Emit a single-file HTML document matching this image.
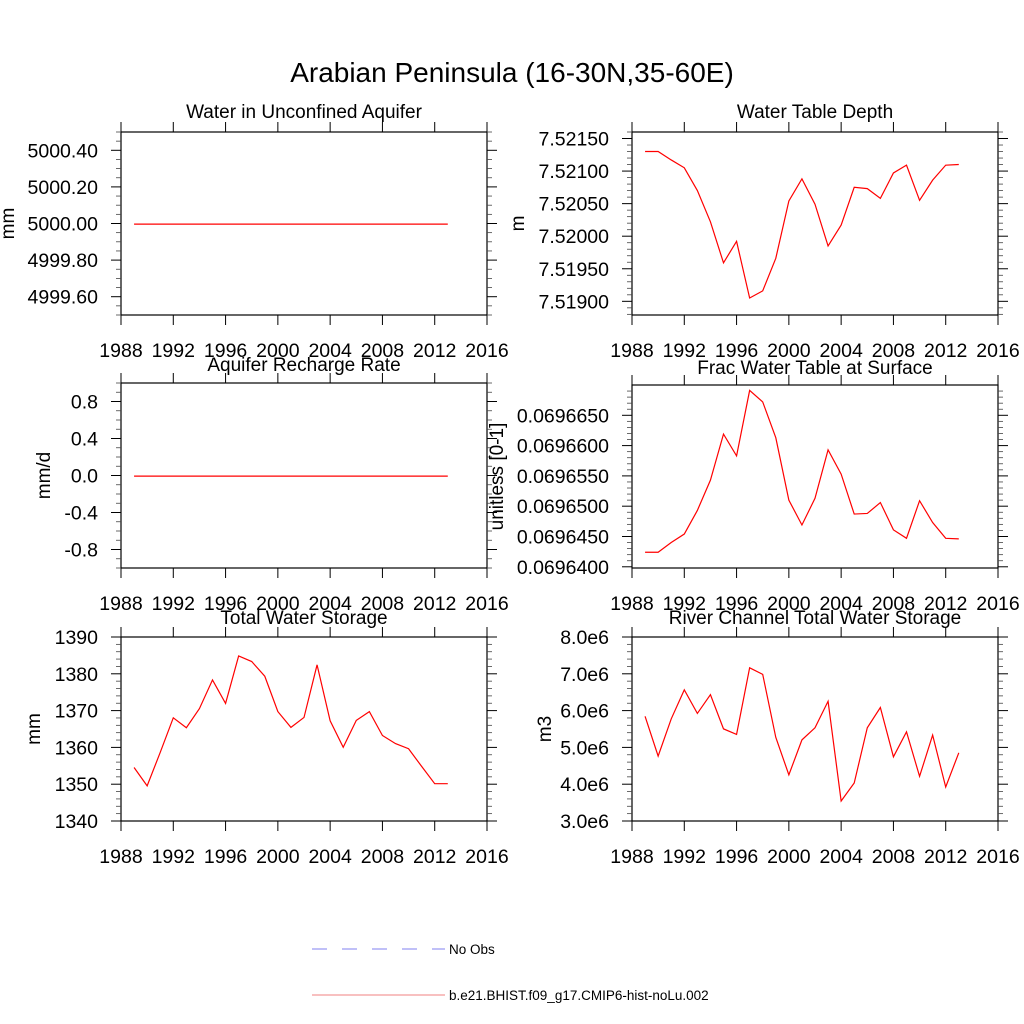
<!DOCTYPE html>
<html><head><meta charset="utf-8"><style>
html,body{margin:0;padding:0;background:#fff;}
svg{display:block;font-family:"Liberation Sans",Arial,sans-serif;}
</style></head><body>
<svg id="chart" width="1024" height="1024" viewBox="0 0 1024 1024" xmlns="http://www.w3.org/2000/svg">
<text x="512" y="82" font-size="28" text-anchor="middle">Arabian Peninsula (16-30N,35-60E)</text>
<g>
<line x1="312" y1="949" x2="445" y2="949" stroke="#8080f0" stroke-width="1" stroke-dasharray="15,15"/>
<text x="449" y="954" font-size="13.5">No Obs</text>
<line x1="312" y1="995" x2="445" y2="995" stroke="#f08080" stroke-width="1"/>
<text x="449" y="1000" font-size="13.5">b.e21.BHIST.f09_g17.CMIP6-hist-noLu.002</text>
</g>
</svg>
<script>
const years=[1989,1990,1991,1992,1993,1994,1995,1996,1997,1998,1999,2000,2001,2002,2003,2004,2005,2006,2007,2008,2009,2010,2011,2012,2013];
const xTicks=[1988,1992,1996,2000,2004,2008,2012,2016];
const aquiferVals=[5000,5000,5000,5000,5000,5000,5000,5000,5000,5000,5000,5000,5000,5000,5000,5000,5000,5000,5000,5000,5000,5000,5000,5000,5000];
const rechargeVals=[0,0,0,0,0,0,0,0,0,0,0,0,0,0,0,0,0,0,0,0,0,0,0,0,0];
const wtdVals=[7.52131,7.52131,7.52118,7.52106,7.52071,7.52023,7.51960,7.51993,7.51906,7.51917,7.51967,7.52055,7.52089,7.52050,7.51986,7.52018,7.52076,7.52074,7.52059,7.52098,7.52110,7.52056,7.52087,7.52110,7.52111];
const fracVals=[0.0696425,0.0696425,0.0696441,0.0696455,0.0696494,0.0696544,0.0696620,0.0696584,0.0696692,0.0696673,0.0696614,0.0696511,0.0696470,0.0696514,0.0696594,0.0696554,0.0696488,0.0696489,0.0696507,0.0696462,0.0696448,0.0696510,0.0696474,0.0696448,0.0696447];
const twsVals=[1354.7,1349.7,1358.8,1368.2,1365.5,1370.7,1378.5,1372.1,1385.0,1383.5,1379.5,1369.9,1365.6,1368.3,1382.6,1367.4,1360.2,1367.5,1369.9,1363.4,1361.2,1359.8,1355.0,1350.3,1350.3];
const riverVals=[5.86,4.78,5.79,6.58,5.94,6.45,5.52,5.37,7.18,7.00,5.29,4.27,5.22,5.55,6.27,3.56,4.05,5.55,6.10,4.76,5.44,4.23,5.35,3.94,4.87];
const aquiferTicks=["5000.40","5000.20","5000.00","4999.80","4999.60"];
const rechargeTicks=["0.8","0.4","0.0","-0.4","-0.8"];
const wtdTicks=["7.52150","7.52100","7.52050","7.52000","7.51950","7.51900"];
const fracTicks=["0.0696650","0.0696600","0.0696550","0.0696500","0.0696450","0.0696400"];
const twsTicks=["1390","1380","1370","1360","1350","1340"];
const riverTicks=["8.0e6","7.0e6","6.0e6","5.0e6","4.0e6","3.0e6"];

const panels=[
 {name:'water-unconfined-aquifer',title:'Water in Unconfined Aquifer',yt:'mm',ytx:14,x0:121,x1:487,y0:132,y1:315,ymin:4999.5,ymax:5000.5,top:5000.4,major:0.2,minor:0.05,ticks:aquiferTicks,vals:aquiferVals,titleY:118},
 {name:'water-table-depth',title:'Water Table Depth',yt:'m',ytx:524,x0:632,x1:998,y0:132,y1:315,ymin:7.51879,ymax:7.52160,top:7.5215,major:0.0005,minor:0.0001,ticks:wtdTicks,vals:wtdVals,titleY:118},
 {name:'aquifer-recharge-rate',title:'Aquifer Recharge Rate',yt:'mm/d',ytx:50,x0:121,x1:487,y0:383,y1:568,ymin:-1,ymax:1,top:0.8,major:0.4,minor:0.1,ticks:rechargeTicks,vals:rechargeVals,titleY:371},
 {name:'frac-water-table-surface',title:'Frac Water Table at Surface',yt:'unitless [0-1]',ytx:503,x0:632,x1:998,y0:385,y1:568,ymin:0.0696398,ymax:0.0696700,top:0.069665,major:0.000005,minor:0.000001,ticks:fracTicks,vals:fracVals,titleY:374},
 {name:'total-water-storage',title:'Total Water Storage',yt:'mm',ytx:40,x0:121,x1:487,y0:637,y1:821,ymin:1340,ymax:1390,top:1390,major:10,minor:2,ticks:twsTicks,vals:twsVals,titleY:624},
 {name:'river-channel-storage',title:'River Channel Total Water Storage',yt:'m3',ytx:551,x0:632,x1:998,y0:637,y1:821,ymin:3,ymax:8,top:8,major:1,minor:0.2,ticks:riverTicks,vals:riverVals,titleY:624}
];
const svg=document.getElementById('chart');
const NS='http://www.w3.org/2000/svg';
function mk(tag,attrs,parent){const e=document.createElementNS(NS,tag);for(const k in attrs)e.setAttribute(k,attrs[k]);parent.appendChild(e);return e;}
panels.forEach(p=>{
 const g=mk('g',{},svg);
 
 
 const xs=v=>p.x0+(v-1988)/(2016-1988)*(p.x1-p.x0);
 const ys=v=>p.y1-(v-p.ymin)/(p.ymax-p.ymin)*(p.y1-p.y0);
 const fr=mk('rect',{x:p.x0,y:p.y0,width:p.x1-p.x0,height:p.y1-p.y0,fill:'none',stroke:'#000','stroke-width':1.2},g);
 
 
 const t=mk('text',{x:(p.x0+p.x1)/2,y:p.titleY,'font-size':19,'text-anchor':'middle'},g);t.textContent=p.title;
 
 
 const cy=(p.y0+p.y1)/2;
 const yt=mk('text',{x:p.ytx,y:cy,'font-size':19,'text-anchor':'middle',transform:'rotate(-90 '+p.ytx+' '+cy+')'},g);yt.textContent=p.yt;
 
 
 xTicks.forEach(v=>{
  const x=xs(v);
  mk('line',{x1:x,y1:p.y1,x2:x,y2:p.y1+10,stroke:'#000'},g);
  mk('line',{x1:x,y1:p.y0,x2:x,y2:p.y0-10,stroke:'#000'},g);
  const l=mk('text',{x:x,y:p.y1+42,'font-size':19.5,'text-anchor':'middle'},g);l.textContent=v;
  
  
 });
 p.ticks.forEach((lab,i)=>{
  const v=p.top-i*p.major;const y=ys(v);
  mk('line',{x1:p.x0,y1:y,x2:p.x0-10,y2:y,stroke:'#000'},g);
  mk('line',{x1:p.x1,y1:y,x2:p.x1+10,y2:y,stroke:'#000'},g);
  const l=mk('text',{x:p.x0-23,y:y+7,'font-size':19.5,'text-anchor':'end'},g);l.textContent=lab;
  
  
 });
 const n=Math.round((p.ymax-p.ymin)/p.minor)+2;
 const start=Math.ceil(p.ymin/p.minor-1e-6)*p.minor;
 for(let k=0;k<n;k++){
  const v=start+k*p.minor;if(v>p.ymax+1e-12)break;
  const r=Math.abs((v-p.top)/p.major-Math.round((v-p.top)/p.major));if(r<1e-4)continue;
  const y=ys(v);
  mk('line',{x1:p.x0,y1:y,x2:p.x0-5,y2:y,stroke:'#444','stroke-width':0.8},g);
  mk('line',{x1:p.x1,y1:y,x2:p.x1+5,y2:y,stroke:'#444','stroke-width':0.8},g);
 }
 const pts=years.map((yr,i)=>xs(yr).toFixed(2)+','+(ys(p.vals[i])+0.6).toFixed(2)).join(' ');
 const pl=mk('polyline',{points:pts,fill:'none',stroke:'#ff0000','stroke-width':1.2},g);
 
 
});
</script>
</body></html>
